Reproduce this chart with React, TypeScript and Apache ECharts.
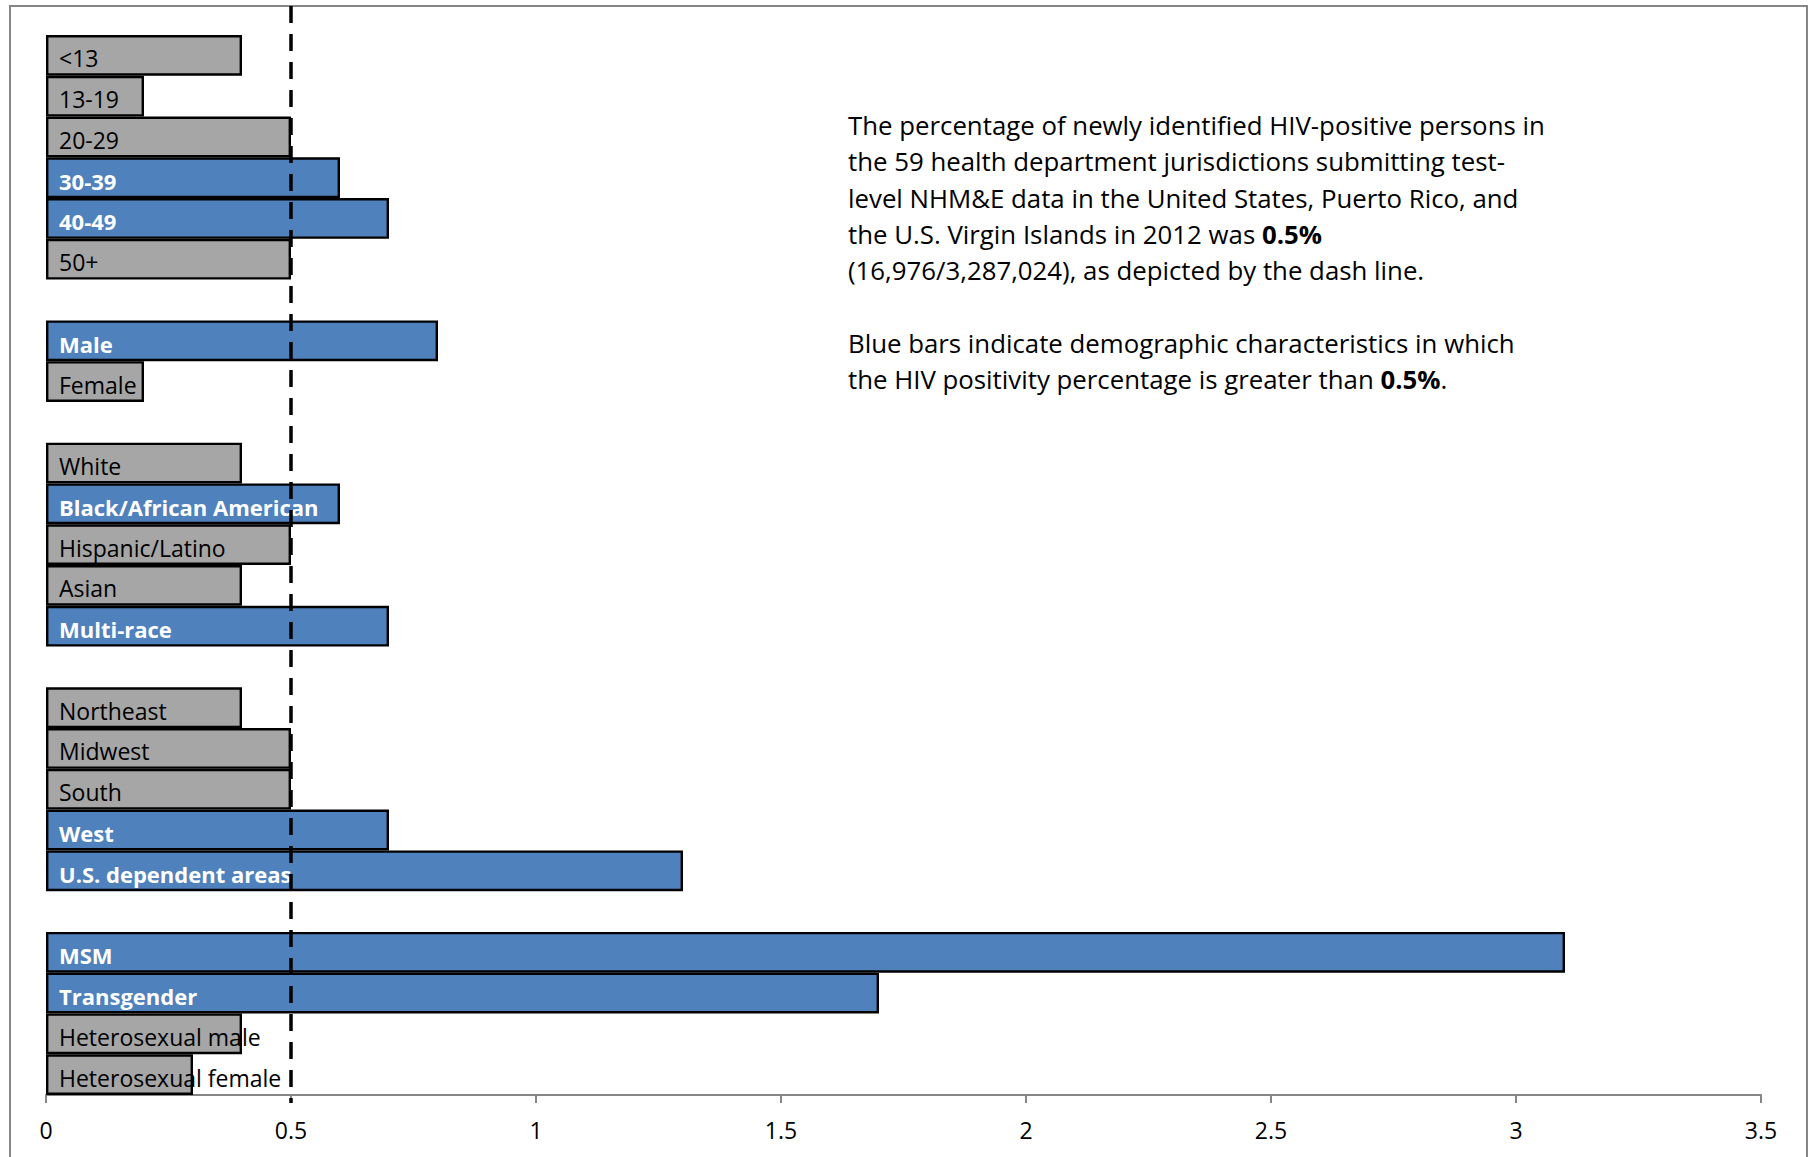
import React, { useEffect, useRef } from "react";
import * as echarts from "echarts";

const ageCats = ["<13", "13-19", "20-29", "30-39", "40-49", "50+"];
const ageVals = [0.4, 0.2, 0.5, 0.6, 0.7, 0.5];
const sexCats = ["Male", "Female"];
const sexVals = [0.8, 0.2];
const raceCats = ["White", "Black/African American", "Hispanic/Latino", "Asian", "Multi-race"];
const raceVals = [0.4, 0.6, 0.5, 0.4, 0.7];
const regionCats = ["Northeast", "Midwest", "South", "West", "U.S. dependent areas"];
const regionVals = [0.4, 0.5, 0.5, 0.7, 1.3];
const riskCats = ["MSM", "Transgender", "Heterosexual male", "Heterosexual female"];
const riskVals = [3.1, 1.7, 0.4, 0.3];
const overallPct = 0.5;
const xMin = 0;
const xMax = 3.5;
const xStep = 0.5;

const noteText =
  "The percentage of newly identified HIV-positive persons in\n" +
  "the 59 health department jurisdictions submitting test-\n" +
  "level NHM&E data in the United States, Puerto Rico, and\n" +
  "the U.S. Virgin Islands in 2012 was {b|0.5%}\n" +
  "(16,976/3,287,024), as depicted by the dash line.\n" +
  "\n" +
  "Blue bars indicate demographic characteristics in which\n" +
  "the HIV positivity percentage is greater than {b|0.5%}.";

const FONT = "'Open Sans', 'Noto Sans', sans-serif";
const BLUE = "#4F81BD";
const GREY = "#A6A6A6";

export default function App() {
  const ref = useRef<HTMLDivElement>(null);
  useEffect(() => {
    if (!ref.current) return;
    const chart = echarts.init(ref.current, undefined, { renderer: "svg" });
    const groups: [string[], number[]][] = [
      [ageCats, ageVals],
      [sexCats, sexVals],
      [raceCats, raceVals],
      [regionCats, regionVals],
      [riskCats, riskVals],
    ];
    const cats: string[] = [];
    const data: any[] = [];
    groups.forEach(([c, v], gi) => {
      if (gi > 0) {
        cats.push("gap" + gi);
        data.push("-");
      }
      c.forEach((name, i) => {
        const high = v[i] > overallPct;
        cats.push(name);
        data.push({
          value: v[i],
          itemStyle: { color: high ? BLUE : GREY },
          label: {
            color: high ? "#fff" : "#000",
            fontWeight: high ? "bold" : "normal",
            fontSize: high ? 22 : 23,
          },
        });
      });
    });

    chart.setOption({
      animation: false,
      grid: { left: 46, right: 49, top: 35, bottom: 62 },
      xAxis: {
        type: "value",
        min: xMin,
        max: xMax,
        interval: xStep,
        axisLine: { show: true, lineStyle: { color: "#868686", width: 2 } },
        axisTick: { show: true, length: 8, lineStyle: { color: "#868686", width: 2 } },
        splitLine: { show: false },
        axisLabel: { color: "#000", fontSize: 23, fontFamily: FONT, margin: 23 },
      },
      yAxis: {
        type: "category",
        inverse: true,
        data: cats,
        axisLine: { show: false },
        axisTick: { show: false },
        axisLabel: { show: false },
        splitLine: { show: false },
      },
      series: [
        {
          type: "bar",
          data,
          barCategoryGap: 0,
          itemStyle: { borderColor: "#000", borderWidth: 2.4 },
          label: {
            show: true,
            position: "insideLeft",
            distance: 0,
            offset: [13, 3],
            fontSize: 23,
            fontFamily: FONT,
            formatter: (p: any) => p.name,
          },
          z: 2,
        },
      ],
      graphic: [
        {
          id: "frame",
          type: "rect",
          shape: { x: 10, y: 6, width: 1797, height: 1200 },
          style: { fill: "none", stroke: "#868686", lineWidth: 2 },
          silent: true,
          z: 0,
        },
        {
          id: "note",
          type: "text",
          x: 848,
          y: 107,
          style: {
            text: noteText,
            fontSize: 25.8,
            fontFamily: FONT,
            fill: "#000",
            lineHeight: 36.3,
            rich: {
              b: { fontWeight: "bold", fontSize: 25.8, fontFamily: FONT, lineHeight: 36.3 },
            },
          },
        },
      ],
    });

    const px = chart.convertToPixel({ xAxisIndex: 0 }, overallPct) as number;
    chart.setOption({
      graphic: [
        {
          id: "dash",
          type: "line",
          shape: { x1: px, y1: 6, x2: px, y2: 1103 },
          style: { stroke: "#000", lineWidth: 3.5, lineDash: [17, 11] },
          silent: true,
          z: 100,
        },
      ],
    });

    return () => chart.dispose();
  }, []);
  return (
    <div
      ref={ref}
      style={{ position: "fixed", left: 0, top: 0, width: 1810, height: 1157, background: "#fff" }}
    />
  );
}
